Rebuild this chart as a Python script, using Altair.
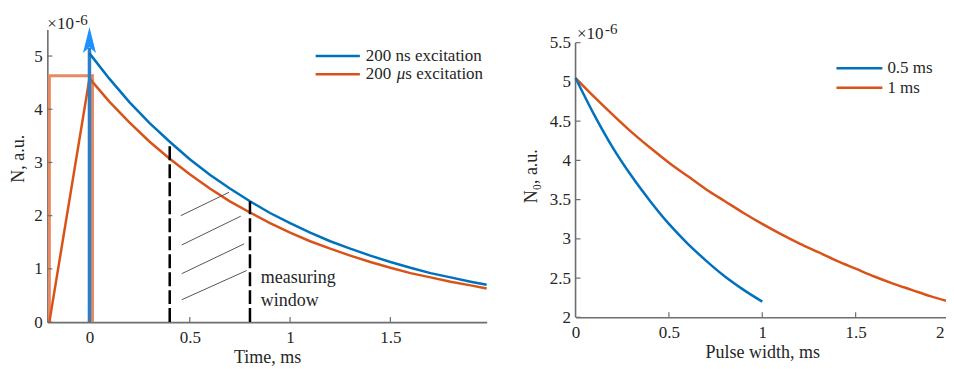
import altair as alt
import pandas as pd

# ---------------- data: left panel (values in units of 1e-6) ----------------
t_decay = [0.0, 0.1, 0.2, 0.3, 0.4, 0.5, 0.6, 0.7, 0.8, 0.9, 1.0,
           1.1, 1.2, 1.3, 1.4, 1.5, 1.6, 1.7, 1.8, 1.9, 1.98]
n_200ns = [5.05, 4.57, 4.13, 3.74, 3.39, 3.06, 2.77, 2.51, 2.27, 2.05, 1.86,
           1.68, 1.52, 1.38, 1.25, 1.13, 1.02, 0.92, 0.84, 0.76, 0.70]
t_200us = [-0.2] + t_decay
n_200us = [0.0, 4.58, 4.14, 3.75, 3.39, 3.07, 2.78, 2.51, 2.27, 2.06, 1.86, 1.68,
           1.52, 1.38, 1.25, 1.13, 1.02, 0.92, 0.84, 0.76, 0.69, 0.63]
pulse_t = [-0.2, -0.2, 0.015, 0.015]
pulse_n = [0.0, 4.63, 4.63, 0.0]
spike_t = [0.0]
spike_base = [0.0]
spike_top = [5.15]
arrow_n = [5.30]
window_t = [0.4, 0.8]
window_base = [0.0, 0.0]
window_top = [3.38, 2.27]
hatch_x1 = [0.455, 0.460, 0.460, 0.460]
hatch_y1 = [2.00, 1.45, 0.91, 0.42]
hatch_x2 = [0.696, 0.754, 0.771, 0.784]
hatch_y2 = [2.44, 1.99, 1.47, 0.97]
note_text = ["measuring", "window"]
note_t = [0.854, 0.854]
note_n = [0.735, 0.30]
left_x_ticks = [0, 0.5, 1, 1.5]
left_y_ticks = [0, 1, 2, 3, 4, 5]
left_legend = ["200 ns excitation", "200 ", "\u03bc", "s excitation"]

# ---------------- data: right panel ----------------
w_05 = [0.0, 0.1, 0.2, 0.3, 0.4, 0.5, 0.6, 0.7, 0.8, 0.9, 1.0]
n0_05 = [5.05, 4.58, 4.16, 3.80, 3.48, 3.19, 2.94, 2.72, 2.52, 2.35, 2.20]
w_1 = [0.0, 0.1, 0.2, 0.3, 0.4, 0.5, 0.6, 0.7, 0.8, 0.9, 1.0,
       1.1, 1.2, 1.3, 1.4, 1.5, 1.6, 1.7, 1.8, 1.9, 2.0]
n0_1 = [5.05, 4.81, 4.58, 4.36, 4.16, 3.97, 3.80, 3.63, 3.48, 3.33, 3.19,
        3.06, 2.94, 2.83, 2.72, 2.62, 2.52, 2.43, 2.35, 2.27, 2.20]
right_axis_x = [0.0]
right_axis_lo = [2.0]
right_axis_hi = [5.5]
right_x_ticks = [0, 0.5, 1, 1.5, 2]
right_y_ticks = [2, 2.5, 3, 3.5, 4, 4.5, 5, 5.5]
right_legend = ["0.5 ms", "1 ms"]
exponent = ["\u00d710", "-6"]

# ---------------- style ----------------
W1, W2, H = 440, 374, 293.1
SERIF = "Liberation Serif"
BLUE = "#0072BD"
ORANGE = "#D95319"
PULSE = "#E58A63"
SPIKE = "#2A7FCB"
ARROW = "#1E90FF"
AX = "#6E6E6E"
TXT = "#262626"
ARROW_PATH = "M0,-1L0.5,1L0,0.55L-0.5,1Z"

one = pd.DataFrame({"k": [0]})

LXS = alt.Scale(domain=[-0.21, 1.98], nice=False, zero=False)
LYS = alt.Scale(domain=[0, 5.5], nice=False, zero=False)
RXS = alt.Scale(domain=[0, 2], nice=False, zero=False)
RYS = alt.Scale(domain=[1.939, 5.669], nice=False, zero=False)

left_x_axis = alt.Axis(title="Time, ms", values=left_x_ticks, format=".1~f",
                       labelFlush=False, labelPadding=7, titlePadding=3)
left_y_axis = alt.Axis(title="N, a.u.", values=left_y_ticks, format="d",
                       labelPadding=5, titlePadding=6, titleY=129)
right_x_axis = alt.Axis(
    title="Pulse width, ms", values=right_x_ticks, format=".1~f",
    labelFlush=False, offset=-4.8, labelPadding=7, titlePadding=3,
    labelAlign={"condition": {"test": "datum.value == 2", "value": "right"}, "value": "center"},
    labelOffset={"condition": {"test": "datum.value == 2", "value": -5}, "value": 0},
)
right_y_axis = alt.Axis(title="N\u2080, a.u.", values=right_y_ticks, format=".1~f",
                        domain=False, labelPadding=5, titlePadding=9)


def lx(f):
    return alt.X(f"{f}:Q", scale=LXS, axis=left_x_axis)


def ly(f):
    return alt.Y(f"{f}:Q", scale=LYS, axis=left_y_axis)


def rx(f):
    return alt.X(f"{f}:Q", scale=RXS, axis=right_x_axis)


def ry(f):
    return alt.Y(f"{f}:Q", scale=RYS, axis=right_y_axis)


def txt(s, x, y, size=17, style="normal", align="left", baseline="middle"):
    return alt.Chart(one).mark_text(
        text=s, font=SERIF, fontSize=size, fontStyle=style, color=TXT,
        align=align, baseline=baseline,
    ).encode(x=alt.value(x), y=alt.value(y))


def swatch(color, x1, x2, y):
    return alt.Chart(one).mark_rule(color=color, strokeWidth=2.5).encode(
        x=alt.value(x1), x2=alt.value(x2), y=alt.value(y))


# ---------------- left panel ----------------
df_pulse = pd.DataFrame({"t": pulse_t, "n": pulse_n, "i": list(range(len(pulse_t)))})
df_us = pd.DataFrame({"t": t_200us, "n": n_200us, "i": list(range(len(t_200us)))})
df_ns = pd.DataFrame({"t": t_decay, "n": n_200ns})
df_spike = pd.DataFrame({"t": spike_t, "n": spike_base, "hi": spike_top, "a": arrow_n})
df_win = pd.DataFrame({"t": window_t, "n": window_base, "hi": window_top})
df_hatch = pd.DataFrame({"t": hatch_x1, "x2": hatch_x2, "n": hatch_y1, "y2": hatch_y2})
df_note = pd.DataFrame({"t": note_t, "n": note_n, "s": note_text})
df_lxt = pd.DataFrame({"t": left_x_ticks})
df_lyt = pd.DataFrame({"n": left_y_ticks})

pulse = alt.Chart(df_pulse).mark_line(color=PULSE, strokeWidth=3).encode(
    x=lx("t"), y=ly("n"), order="i:Q")
orange = alt.Chart(df_us).mark_line(color=ORANGE, strokeWidth=2.5).encode(
    x=lx("t"), y=ly("n"), order="i:Q")
spike = alt.Chart(df_spike).mark_rule(color=SPIKE, strokeWidth=3.5).encode(
    x=lx("t"), y=ly("n"), y2="hi:Q")
blue = alt.Chart(df_ns).mark_line(color=BLUE, strokeWidth=2.5).encode(
    x=lx("t"), y=ly("n"))
arrow = alt.Chart(df_spike).mark_point(
    shape=ARROW_PATH, size=676, filled=True, opacity=1, color=ARROW, strokeWidth=0
).encode(x=lx("t"), y=alt.Y("a:Q", scale=LYS, axis=left_y_axis))
win = alt.Chart(df_win).mark_rule(color="black", strokeWidth=2.5, strokeDash=[14, 4]).encode(
    x=lx("t"), y=ly("n"), y2="hi:Q")
hatch = alt.Chart(df_hatch).mark_rule(color="#555555", strokeWidth=1).encode(
    x=lx("t"), x2="x2:Q", y=ly("n"), y2="y2:Q")
note = alt.Chart(df_note).mark_text(
    font=SERIF, fontSize=18, color=TXT, align="left", baseline="alphabetic"
).encode(x=lx("t"), y=ly("n"), text="s:N")
lyt = alt.Chart(df_lyt).mark_rule(color=AX, strokeWidth=1.2).encode(
    y=ly("n"), x=alt.value(0), x2=alt.value(5))
lxt = alt.Chart(df_lxt).mark_rule(color=AX, strokeWidth=1.2).encode(
    x=lx("t"), y=alt.value(H), y2=alt.value(H - 5))

left_layers = [pulse, orange, spike, blue, arrow, win, hatch, note, lyt, lxt,
               swatch(BLUE, 268.7, 313, 26.6), swatch(ORANGE, 268.7, 313, 44.9),
               txt(left_legend[0], 319, 26.6),
               txt(left_legend[1], 319, 44.9),
               txt(left_legend[2], 350, 44.9, style="italic"),
               txt(left_legend[3], 358.5, 44.9),
               txt(exponent[0], 0, -5.6),
               txt(exponent[1], 28, -9.7, size=15)]
left = alt.layer(*left_layers).properties(width=W1, height=H)

# ---------------- right panel ----------------
df_r1 = pd.DataFrame({"w": w_1, "n": n0_1})
df_r05 = pd.DataFrame({"w": w_05, "n": n0_05})
df_rax = pd.DataFrame({"w": right_axis_x, "n": right_axis_lo, "hi": right_axis_hi})
df_rxt = pd.DataFrame({"w": right_x_ticks[1:]})
df_ryt = pd.DataFrame({"n": right_y_ticks})

r_orange = alt.Chart(df_r1).mark_line(color=ORANGE, strokeWidth=2.5, interpolate="monotone").encode(
    x=rx("w"), y=ry("n"))
r_blue = alt.Chart(df_r05).mark_line(color=BLUE, strokeWidth=2.5, interpolate="monotone").encode(
    x=rx("w"), y=ry("n"))
r_axis = alt.Chart(df_rax).mark_rule(color=AX, strokeWidth=1.6).encode(
    x=rx("w"), y=ry("n"), y2="hi:Q")
ryt = alt.Chart(df_ryt).mark_rule(color=AX, strokeWidth=1.2).encode(
    y=ry("n"), x=alt.value(0), x2=alt.value(5))
rxt = alt.Chart(df_rxt).mark_rule(color=AX, strokeWidth=1.2).encode(
    x=rx("w"), y=alt.value(H - 4.8), y2=alt.value(H - 9.8))

right_layers = [r_axis, r_orange, r_blue, ryt, rxt,
                swatch(BLUE, 261.3, 307.3, 38.9), swatch(ORANGE, 261.3, 307.3, 58.3),
                txt(right_legend[0], 312.3, 38.9), txt(right_legend[1], 312.3, 58.3),
                txt(exponent[0], 1.5, 4.4), txt(exponent[1], 29.5, -0.2, size=15)]
right = alt.layer(*right_layers).properties(width=W2, height=H)

chart = alt.hconcat(left, right, spacing=89, bounds="flush").properties(
    padding={"left": 1.4, "top": 4.2, "right": -8, "bottom": 0}
).configure_axis(
    labelFont=SERIF, labelFontSize=17, labelColor=TXT,
    titleFont=SERIF, titleFontSize=18, titleFontWeight="normal", titleColor=TXT,
    domainColor=AX, domainWidth=1.6, ticks=False, grid=False,
).configure_view(stroke=None)

chart.save("out.html", embed_options={"renderer": "svg", "actions": False})
